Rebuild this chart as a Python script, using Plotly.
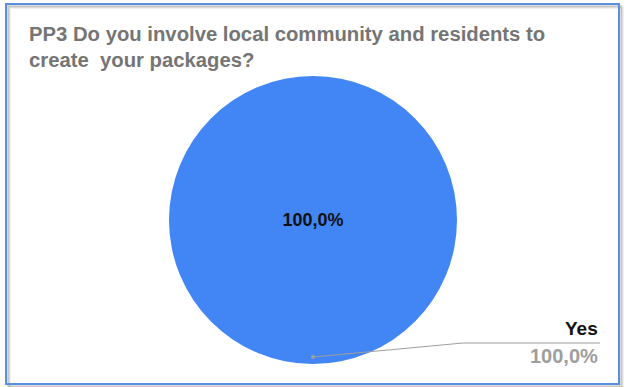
import plotly.graph_objects as go

# Survey answers for PP3
labels = ["Yes"]
values = [100]
slice_colors = ["#4285f4"]

W, H = 628, 387
FONT = "Liberation Sans, Arial, sans-serif"


def px(x):
    return x / W


def py(y):
    return 1 - y / H


fig = go.Figure()

fig.add_trace(go.Pie(
    labels=labels,
    values=values,
    marker=dict(colors=slice_colors, line=dict(width=0)),
    texttemplate="<b>%{percent:.1%}</b>",
    textposition="inside",
    insidetextfont=dict(family=FONT, size=18, color="#111111"),
    sort=False,
    showlegend=False,
    hoverinfo="skip",
    domain=dict(x=[px(169), px(457)], y=[py(364), py(76)]),
))

shapes = []
# soft drop shadow on the right and bottom of the frame
for off, op in [(4, 0.10), (3, 0.18), (2, 0.28)]:
    shapes.append(dict(type="rect", xref="paper", yref="paper",
                       x0=px(6 + off), x1=px(619 + off), y0=py(384 + off), y1=py(4 + off),
                       line=dict(color=f"rgba(120,120,120,{op})", width=2), layer="below"))
# card frame
shapes.append(dict(type="rect", xref="paper", yref="paper",
                   x0=px(6), x1=px(619), y0=py(384), y1=py(4),
                   line=dict(color="#5a8fe0", width=2), fillcolor="rgba(0,0,0,0)"))
# leader line from slice to outside label
shapes.append(dict(type="path", xref="paper", yref="paper",
                   path=f"M {px(313)},{py(357)} L {px(463)},{py(343)} L {px(600)},{py(343)}",
                   line=dict(color="#9e9e9e", width=1.2)))
shapes.append(dict(type="circle", xref="paper", yref="paper",
                   x0=px(311), x1=px(315), y0=py(359), y1=py(355),
                   line=dict(width=0), fillcolor="#a0a0a0"))

total = sum(values)
pct = values[0] / total * 100
pct_text = f"{pct:.1f}%".replace(".", ",")

annotations = [
    dict(x=px(27), y=py(21), xref="paper", yref="paper", xanchor="left", yanchor="top",
         align="left", showarrow=False,
         text="<b>PP3 Do you involve local community and residents to<br>create  your packages?</b>",
         font=dict(family=FONT, size=20.3, color="#757575")),
    dict(x=px(600), y=py(341), xref="paper", yref="paper", xanchor="right", yanchor="bottom",
         showarrow=False, text=f"<b>{labels[0]}</b>",
         font=dict(family=FONT, size=19, color="#111111")),
    dict(x=px(600), y=py(343), xref="paper", yref="paper", xanchor="right", yanchor="top",
         showarrow=False, text=f"<b>{pct_text}</b>",
         font=dict(family=FONT, size=20, color="#9e9e9e")),
]

fig.update_layout(
    width=W, height=H,
    margin=dict(l=0, r=0, t=0, b=0),
    paper_bgcolor="white",
    plot_bgcolor="white",
    separators=",.",
    shapes=shapes,
    annotations=annotations,
)

fig.write_html("out.html")
